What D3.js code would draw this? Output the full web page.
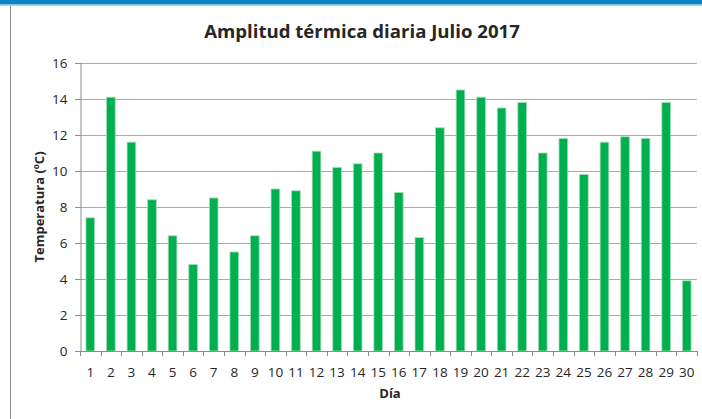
<!DOCTYPE html>
<html>
<head>
<meta charset="utf-8">
<script src="https://cdn.jsdelivr.net/npm/d3@7"></script>
<style>
  body { margin: 0; background: #fff; }
  svg text { font-family: "Open Sans", "Liberation Sans", sans-serif; fill: #262626; }
</style>
</head>
<body>
<div id="chart"></div>
<script>
// daily thermal range, July 2017
var days = d3.range(1, 31).map(String);
var amplitude = [7.4, 14.1, 11.6, 8.4, 6.4, 4.8, 8.5, 5.5, 6.4, 9.0,
                 8.9, 11.1, 10.2, 10.4, 11.0, 8.8, 6.3, 12.4, 14.5, 14.1,
                 13.5, 13.8, 11.0, 11.8, 9.8, 11.6, 11.9, 11.8, 13.8, 3.9];
var yTicks = [0, 2, 4, 6, 8, 10, 12, 14, 16];

var width = 702, height = 419;
var margin = {top: 63, right: 5, bottom: 68, left: 80};

var svg = d3.select("#chart").append("svg")
    .attr("width", width)
    .attr("height", height);

// blue strip on top + frame
svg.append("rect").attr("x", 0).attr("y", 0).attr("width", width).attr("height", 4.5).attr("fill", "#0a85c2");
svg.append("line").attr("x1", 0).attr("x2", width).attr("y1", 5.5).attr("y2", 5.5).attr("stroke", "#c8c8c8");
svg.append("line").attr("x1", 10.5).attr("x2", 10.5).attr("y1", 6).attr("y2", height).attr("stroke", "#8c8c8c");

var x = d3.scaleBand()
    .domain(days)
    .range([margin.left, width - margin.right])
    .paddingInner(0.58)
    .paddingOuter(0.29);

var y = d3.scaleLinear()
    .domain([0, 16])
    .range([height - margin.bottom, margin.top]);

// grid
svg.append("g")
  .selectAll("line")
  .data(yTicks.slice(1))
  .join("line")
    .attr("x1", margin.left - 5)
    .attr("x2", width - margin.right)
    .attr("y1", d => Math.round(y(d)) + 0.5)
    .attr("y2", d => Math.round(y(d)) + 0.5)
    .attr("stroke", "#ababab");

// bars
svg.append("g")
  .selectAll("rect")
  .data(amplitude)
  .join("rect")
    .attr("x", (d, i) => x(days[i]))
    .attr("y", d => y(d))
    .attr("width", x.bandwidth())
    .attr("height", d => y(0) - y(d))
    .attr("fill", "#00b050")
    .attr("stroke", "#9fdcb2")
    .attr("stroke-width", 0.8);

// y axis
var yAxis = svg.append("g")
    .attr("transform", "translate(" + (margin.left + 0.5) + ",0)")
    .call(d3.axisLeft(y).tickValues(yTicks).tickSize(5).tickPadding(8));
yAxis.select(".domain").attr("stroke", "#8c8c8c");
yAxis.selectAll(".tick line").attr("stroke", "#8c8c8c");
yAxis.selectAll(".tick text").style("font-size", "13.5px").attr("fill", "#262626");

// x axis with ticks between categories
var x0 = y(0);
var xAxis = svg.append("g");
xAxis.append("line")
    .attr("x1", margin.left - 5).attr("x2", width - margin.right)
    .attr("y1", Math.round(x0) + 0.5).attr("y2", Math.round(x0) + 0.5)
    .attr("stroke", "#8c8c8c");
var step = x.step();
xAxis.selectAll(".sep")
  .data(d3.range(0, days.length + 1))
  .join("line")
    .attr("class", "sep")
    .attr("x1", i => Math.round(margin.left + i * step) + 0.5)
    .attr("x2", i => Math.round(margin.left + i * step) + 0.5)
    .attr("y1", Math.round(x0))
    .attr("y2", Math.round(x0) + 5)
    .attr("stroke", "#8c8c8c");
xAxis.selectAll(".lbl")
  .data(days)
  .join("text")
    .attr("class", "lbl")
    .attr("x", d => x(d) + x.bandwidth() / 2)
    .attr("y", x0 + 26)
    .attr("text-anchor", "middle")
    .style("font-size", "13.5px")
    .text(d => d);

// titles
svg.append("text")
    .attr("x", 362)
    .attr("y", 38)
    .attr("text-anchor", "middle")
    .style("font-size", "18.6px")
    .style("font-weight", "bold")
    .attr("fill", "#000")
    .text("Amplitud térmica diaria Julio 2017");

svg.append("text")
    .attr("x", 390)
    .attr("y", 398)
    .attr("text-anchor", "middle")
    .style("font-size", "13px")
    .style("font-weight", "bold")
    .attr("fill", "#000")
    .text("Día");

svg.append("text")
    .attr("transform", "translate(44," + ((margin.top + y(0)) / 2) + ") rotate(-90)")
    .attr("text-anchor", "middle")
    .style("font-size", "13px")
    .style("font-weight", "bold")
    .attr("fill", "#000")
    .text("Temperatura (ºC)");
</script>
</body>
</html>
